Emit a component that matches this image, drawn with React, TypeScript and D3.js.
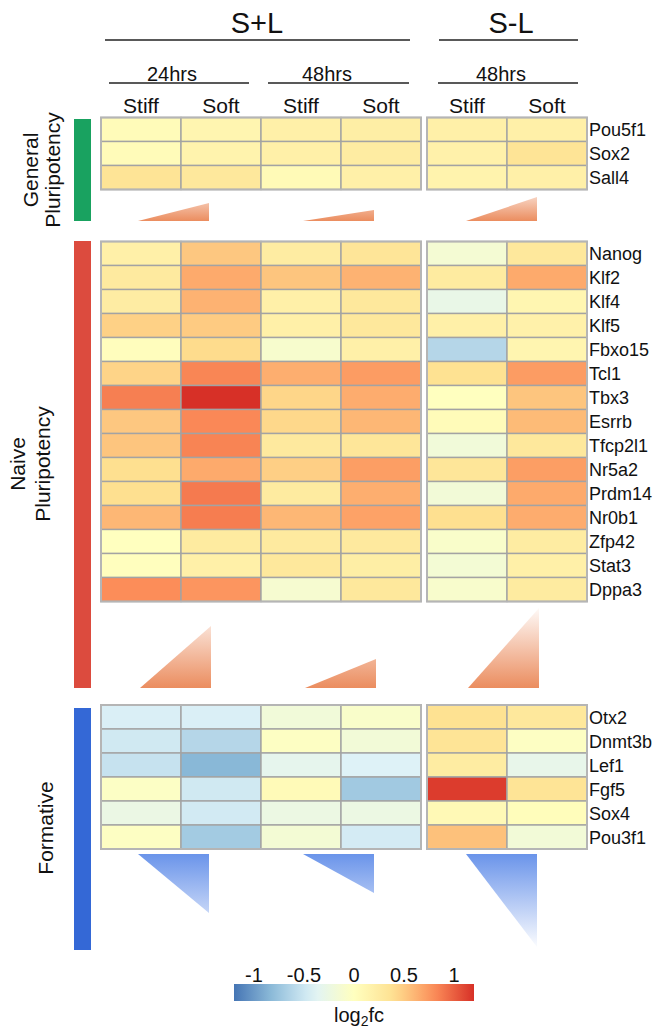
import React from "react";
import * as d3 from "d3";

// Column conditions (S+L 24h, S+L 48h, S-L 48h)
const conditions = ["Stiff", "Soft", "Stiff", "Soft", "Stiff", "Soft"];

const generalGenes = ["Pou5f1", "Sox2", "Sall4"];
const generalValues = [
  [0.05, 0.13, 0.2, 0.22, 0.2, 0.2],
  [0.05, 0.15, 0.2, 0.25, 0.18, 0.35],
  [0.35, 0.3, 0.07, 0.2, 0.15, 0.2],
];

const naiveGenes = [
  "Nanog", "Klf2", "Klf4", "Klf5", "Fbxo15", "Tcl1", "Tbx3", "Esrrb",
  "Tfcp2l1", "Nr5a2", "Prdm14", "Nr0b1", "Zfp42", "Stat3", "Dppa3",
];
const naiveValues = [
  [0.2, 0.52, 0.25, 0.33, -0.14, 0.3],
  [0.27, 0.66, 0.53, 0.62, 0.26, 0.66],
  [0.24, 0.62, 0.2, 0.3, -0.28, 0.12],
  [0.47, 0.5, 0.2, 0.3, 0.2, 0.18],
  [0.02, 0.42, -0.1, 0.2, -0.62, 0.13],
  [0.46, 0.83, 0.64, 0.73, 0.38, 0.73],
  [0.86, 1.2, 0.45, 0.65, 0.0, 0.53],
  [0.52, 0.82, 0.44, 0.6, 0.05, 0.58],
  [0.53, 0.84, 0.28, 0.32, -0.18, 0.3],
  [0.4, 0.66, 0.48, 0.72, 0.32, 0.72],
  [0.4, 0.88, 0.26, 0.64, -0.17, 0.66],
  [0.6, 0.87, 0.6, 0.7, 0.4, 0.65],
  [0.0, 0.26, 0.27, 0.28, -0.08, 0.25],
  [0.01, 0.2, 0.3, 0.22, -0.15, 0.2],
  [0.8, 0.76, -0.12, 0.3, -0.09, 0.26],
];

const formativeGenes = ["Otx2", "Dnmt3b", "Lef1", "Fgf5", "Sox4", "Pou3f1"];
const formativeValues = [
  [-0.43, -0.43, -0.18, -0.08, 0.38, 0.3],
  [-0.48, -0.62, -0.03, -0.17, 0.35, -0.03],
  [-0.53, -0.84, -0.32, -0.41, 0.25, -0.3],
  [-0.04, -0.48, 0.06, -0.72, 1.15, 0.35],
  [-0.26, -0.47, -0.25, -0.25, 0.08, 0.03],
  [-0.03, -0.71, -0.15, -0.46, 0.55, -0.17],
];

// Trend wedge sizes per comparison (24h S+L, 48h S+L, 48h S-L)
const generalTrend = [18, 11, 24];
const naiveTrend = [62, 29, 80];
const formativeTrend = [59, 39, 93];

const legendTicks = [-1, -0.5, 0, 0.5, 1];

const colorStops = [-1.2, -0.8, -0.4, 0, 0.4, 0.8, 1.2];
const colorRange = ["#4575b4", "#91bfdb", "#e0f3f8", "#ffffbf", "#fee090", "#fc8d59", "#d73027"];

const FONT = "'Liberation Sans', Arial, sans-serif";

export default function App() {
  const color = d3.scaleLinear<string>().domain(colorStops).range(colorRange).interpolate(d3.interpolateRgb).clamp(true);

  // Two column blocks: S+L (4 columns) and S-L (2 columns)
  const xLeft = d3.scaleBand<number>().domain([0, 1, 2, 3]).range([101, 421]);
  const xRight = d3.scaleBand<number>().domain([4, 5]).range([427, 587]);
  const colX = (i: number) => (i < 4 ? xLeft(i)! : xRight(i)!);
  const colW = xLeft.bandwidth();

  const yGeneral = d3.scaleBand<string>().domain(generalGenes).range([117.5, 189.5]);
  const yNaive = d3.scaleBand<string>().domain(naiveGenes).range([241.5, 601.5]);
  const yFormative = d3.scaleBand<string>().domain(formativeGenes).range([705, 849]);

  const trendX = [138, 303, 466];
  const trendW = 71;
  const trendScale = d3.scaleLinear().domain([0, 1]).range([0, 1]);

  const legendX = d3.scaleLinear().domain([-1.2, 1.2]).range([234, 474]);
  const legendStops = d3.range(0, 1.0001, 0.05).map((t) => {
    const v = -1.2 + 2.4 * t;
    return { offset: `${t * 100}%`, color: color(v) };
  });

  const block = (genes: string[], values: number[][], y: d3.ScaleBand<string>, key: string) => {
    const top = y.range()[0];
    const bottom = y.range()[1];
    return (
      <g key={key}>
        {genes.map((g, r) =>
          values[r].map((v, c) => (
            <rect
              key={`${g}-${c}`}
              x={colX(c)}
              y={y(g)}
              width={colW}
              height={y.bandwidth()}
              fill={color(v)}
              stroke="#a3a3a3"
              strokeWidth={1.4}
            />
          ))
        )}
        <rect x={101} y={top} width={320} height={bottom - top} fill="none" stroke="#b5b5b5" strokeWidth={2} />
        <rect x={427} y={top} width={160} height={bottom - top} fill="none" stroke="#b5b5b5" strokeWidth={2} />
        {genes.map((g) => (
          <text key={g} x={589} y={y(g)! + y.bandwidth() / 2 + 6.5} fontSize={18} fontFamily={FONT} fill="#111">
            {g}
          </text>
        ))}
      </g>
    );
  };

  return (
    <svg width={657} height={1032} style={{ position: "absolute", left: 0, top: 0, background: "#fff" }}>
      <defs>
        <linearGradient id="gradGeneral" gradientUnits="userSpaceOnUse" x1={0} y1={182} x2={0} y2={221}>
          <stop offset="0%" stopColor="#ffffff" />
          <stop offset="100%" stopColor="#eb8d5f" />
        </linearGradient>
        <linearGradient id="gradNaive" gradientUnits="userSpaceOnUse" x1={0} y1={604} x2={0} y2={688}>
          <stop offset="0%" stopColor="#ffffff" />
          <stop offset="100%" stopColor="#eb8d5f" />
        </linearGradient>
        <linearGradient id="gradFormative" gradientUnits="userSpaceOnUse" x1={0} y1={854} x2={0} y2={950}>
          <stop offset="0%" stopColor="#6a94ea" />
          <stop offset="100%" stopColor="#ffffff" />
        </linearGradient>
        <linearGradient id="gradLegend" x1="0" y1="0" x2="1" y2="0">
          {legendStops.map((s) => (
            <stop key={s.offset} offset={s.offset} stopColor={s.color} />
          ))}
        </linearGradient>
      </defs>

      {/* Treatment headers */}
      <text x={257} y={33} fontSize={29} textAnchor="middle" fontFamily={FONT} fill="#111">S+L</text>
      <line x1={105} x2={410} y1={40} y2={40} stroke="#222" strokeWidth={1.4} />
      <text x={511} y={33} fontSize={29} textAnchor="middle" fontFamily={FONT} fill="#111">S-L</text>
      <line x1={439} x2={578} y1={40} y2={40} stroke="#222" strokeWidth={1.4} />

      <text x={172} y={81} fontSize={20} textAnchor="middle" fontFamily={FONT} fill="#111">24hrs</text>
      <line x1={109} x2={249} y1={83} y2={83} stroke="#222" strokeWidth={1.3} />
      <text x={327} y={81} fontSize={20} textAnchor="middle" fontFamily={FONT} fill="#111">48hrs</text>
      <line x1={268} x2={409} y1={83} y2={83} stroke="#222" strokeWidth={1.3} />
      <text x={501} y={81} fontSize={20} textAnchor="middle" fontFamily={FONT} fill="#111">48hrs</text>
      <line x1={438} x2={578} y1={83} y2={83} stroke="#222" strokeWidth={1.3} />

      {conditions.map((c, i) => (
        <text key={i} x={colX(i) + colW / 2} y={113} fontSize={21} textAnchor="middle" fontFamily={FONT} fill="#111">
          {c}
        </text>
      ))}

      {/* Group side bars */}
      <rect x={74} y={119} width={17} height={102} fill="#19a260" />
      <rect x={74} y={241} width={17} height={447} fill="#dc4b3e" />
      <rect x={74} y={708} width={17} height={242} fill="#3468d6" />

      {/* Group labels */}
      <g fontFamily={FONT} fontSize={21} fill="#111" textAnchor="middle">
        <text transform="translate(38,170) rotate(-90)">General</text>
        <text transform="translate(60,170) rotate(-90)">Pluripotency</text>
        <text transform="translate(25,464) rotate(-90)">Naive</text>
        <text transform="translate(50,464) rotate(-90)">Pluripotency</text>
        <text transform="translate(53,828) rotate(-90)">Formative</text>
      </g>

      {block(generalGenes, generalValues, yGeneral, "general")}
      {block(naiveGenes, naiveValues, yNaive, "naive")}
      {block(formativeGenes, formativeValues, yFormative, "formative")}

      {/* Trend wedges */}
      {generalTrend.map((h, i) => {
        const x0 = trendX[i];
        const base = 221;
        const hh = trendScale(h);
        return <path key={`g${i}`} d={`M${x0},${base} L${x0 + trendW},${base - hh} L${x0 + trendW},${base} Z`} fill="url(#gradGeneral)" />;
      })}
      {naiveTrend.map((h, i) => {
        const x0 = trendX[i] + 2;
        const base = 688;
        const hh = trendScale(h);
        return <path key={`n${i}`} d={`M${x0},${base} L${x0 + trendW},${base - hh} L${x0 + trendW},${base} Z`} fill="url(#gradNaive)" />;
      })}
      {formativeTrend.map((h, i) => {
        const x0 = trendX[i];
        const top = 854;
        const hh = trendScale(h);
        return <path key={`f${i}`} d={`M${x0},${top} L${x0 + trendW},${top} L${x0 + trendW},${top + hh} Z`} fill="url(#gradFormative)" />;
      })}

      {/* Colour legend */}
      {legendTicks.map((t) => (
        <text key={t} x={legendX(t)} y={982} fontSize={20} textAnchor="middle" fontFamily={FONT} fill="#111">
          {t}
        </text>
      ))}
      <rect x={legendX(-1.2)} y={984} width={legendX(1.2) - legendX(-1.2)} height={17} fill="url(#gradLegend)" />
      <text x={359} y={1022} fontSize={20} textAnchor="middle" fontFamily={FONT} fill="#111">
        log<tspan fontSize={14} dy={4}>2</tspan><tspan dy={-4}>fc</tspan>
      </text>
    </svg>
  );
}
